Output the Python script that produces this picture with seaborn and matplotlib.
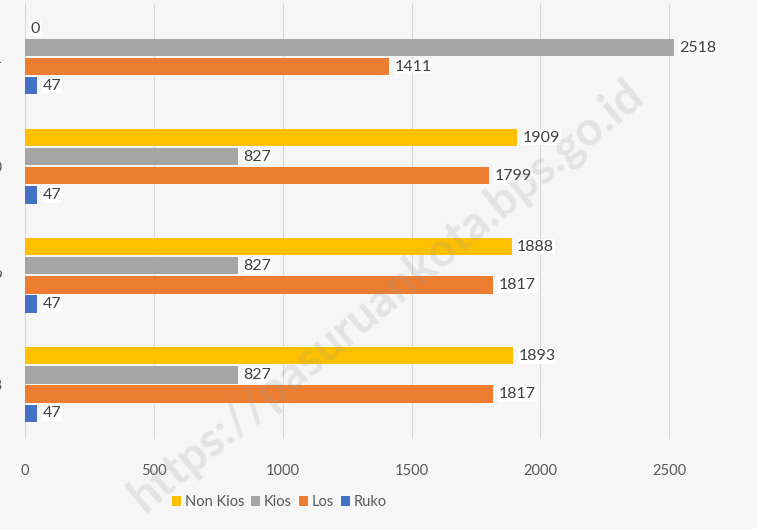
import pandas as pd
import seaborn as sns
import matplotlib.pyplot as plt

# data
years = ['2021', '2020', '2019', '2018']
series = ['Non Kios', 'Kios', 'Los', 'Ruko']
non_kios = [0, 1909, 1888, 1893]
kios = [2518, 827, 827, 827]
los = [1411, 1799, 1817, 1817]
ruko = [47, 47, 47, 47]
colors = ['#FFC000', '#A5A5A5', '#ED7D31', '#4472C4']

df = pd.DataFrame({'tahun': years * 4,
                   'jenis': [s for s in series for _ in years],
                   'jumlah': non_kios + kios + los + ruko})

sns.set_theme(style='white')
plt.rcParams['font.family'] = ['Lato', 'DejaVu Sans']

fig = plt.figure(figsize=(7.57, 5.29), dpi=100, facecolor='#f6f6f6')
ax = fig.add_axes([0.033, 0.170, 0.967, 0.825])
ax.set_facecolor('none')

sns.barplot(data=df, y='tahun', x='jumlah', hue='jenis', order=years,
            hue_order=series, palette=colors, orient='h', width=0.7,
            gap=0.1, linewidth=0, saturation=1, ax=ax, legend=True)

for cont in ax.containers:
    ax.bar_label(cont, padding=4, fontsize=11.5, color='#404040',
                 bbox=dict(facecolor='white', edgecolor='none', pad=0.5))

ax.set_xlim(0, 2840)
ax.set_xticks([0, 500, 1000, 1500, 2000, 2500])
ax.grid(axis='x', color='#d9d9d9', linewidth=0.8)
ax.set_axisbelow(True)
ax.tick_params(axis='x', length=0, pad=18, labelsize=10.5, labelcolor='#595959')
ax.tick_params(axis='y', length=0, pad=16, labelsize=10.5, labelcolor='#595959')
ax.set_xlabel('')
ax.set_ylabel('')
sns.despine(ax=ax, left=True, bottom=True)

ax.legend(loc='center', bbox_to_anchor=(0.369, 0.051), bbox_transform=fig.transFigure,
          ncol=4, frameon=False, fontsize=10.5, handlelength=0.6, handleheight=0.6,
          handletextpad=0.25, columnspacing=0.5, labelcolor='#595959')

# watermark
fig.text(0.51, 0.44, 'https://pasuruankota.bps.go.id', rotation=39.5,
         ha='center', va='center', fontsize=34, fontweight='bold',
         color='#9a9a9a', alpha=0.2)

fig.savefig('out.png', dpi=100, facecolor=fig.get_facecolor())
